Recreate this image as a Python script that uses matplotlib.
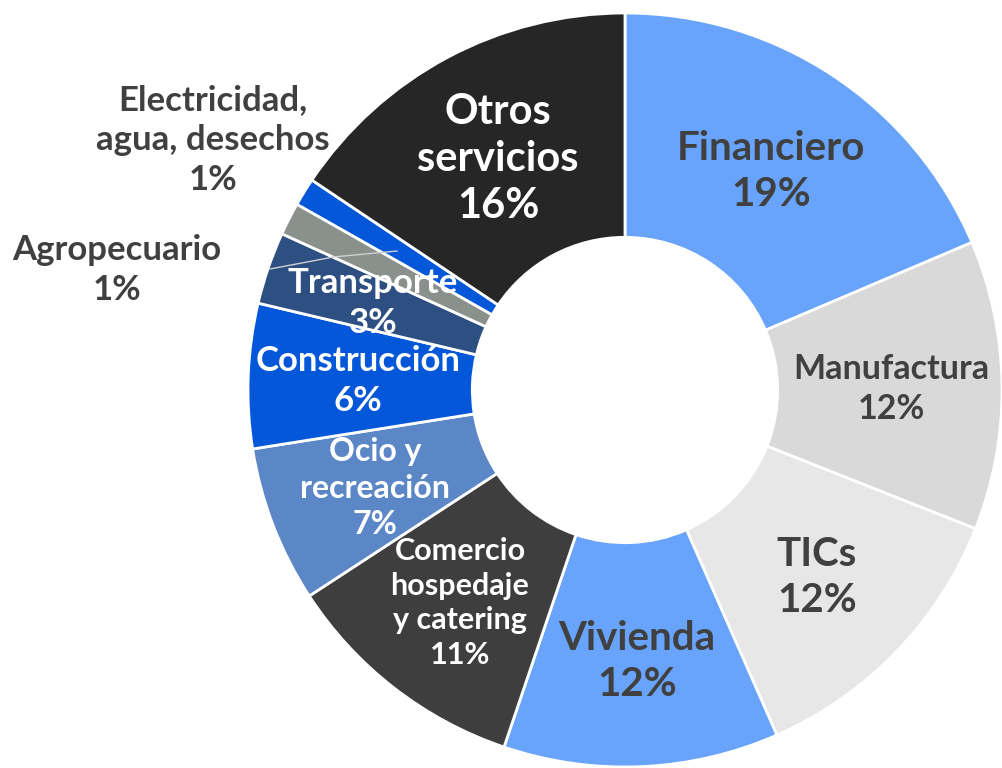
import matplotlib
matplotlib.use("Agg")
import matplotlib.pyplot as plt
import numpy as np

# ---- data ----
categories = ["Financiero", "Manufactura", "TICs", "Vivienda",
              "Comercio\nhospedaje\ny catering", "Ocio y\nrecreación",
              "Construcción", "Transporte", "Agropecuario",
              "Electricidad,\nagua, desechos", "Otros\nservicios"]
shares = [18.6, 12.4, 12.4, 11.8, 10.6, 6.7, 6.2, 3.1, 1.4, 1.2, 15.6]

colors = ["#68A4FC", "#D9D9D9", "#E7E7E7", "#68A4FC", "#3E3E3E", "#5B87C6",
          "#0457D8", "#2D4F82", "#8A918C", "#0457D8", "#262626"]
text_colors = ["#404040", "#404040", "#404040", "#404040", "white", "white",
               "white", "white", "#404040", "#404040", "white"]
font_sizes = [29, 24.5, 29, 29, 22, 23, 25, 25, 25, 25, 30]

# label positions in pixels of the 1002x768 canvas (centre of each text block)
label_px = [(771, 171), (891, 389), (817, 577), (637, 661), (460, 603),
            (375, 488), (358, 381), (373, 303), (117, 270), (213, 140),
            (498, 159)]

W, H = 1002, 768
CX, CY, R = 625, 390, 377

fig = plt.figure(figsize=(W / 100, H / 100), dpi=100)
ax = fig.add_axes([0, 0, 1, 1])

wedges, _ = ax.pie(shares, colors=colors, startangle=90, counterclock=False,
                   radius=1.0, center=(0, 0),
                   wedgeprops=dict(width=0.595, edgecolor="white", linewidth=2.0))

def px2d(px, py):
    return (px - CX) / R, (CY - py) / R

plt.rcParams['font.family'] = ['Lato', 'DejaVu Sans']

for name, val, (px, py), tc, fs in zip(categories, shares, label_px,
                                        text_colors, font_sizes):
    x, y = px2d(px, py)
    ax.text(x, y, f"{name}\n{round(val)}%", ha="center", va="center",
            color=tc, fontsize=fs, fontweight="bold", linespacing=1.3)

# leader line for Agropecuario
x0, y0 = px2d(270, 269)
x1, y1 = px2d(397, 251)
ax.plot([x0, (x0 + x1) / 2, x1], [y0, (y0 + y1) / 2 + 0.008, y1],
        color="#D0D0D0", lw=1.0)

ax.set_xlim(-CX / R, (W - CX) / R)
ax.set_ylim((CY - H) / R, CY / R)
ax.set_aspect("equal")
ax.axis("off")

fig.savefig("out.png", dpi=100)
